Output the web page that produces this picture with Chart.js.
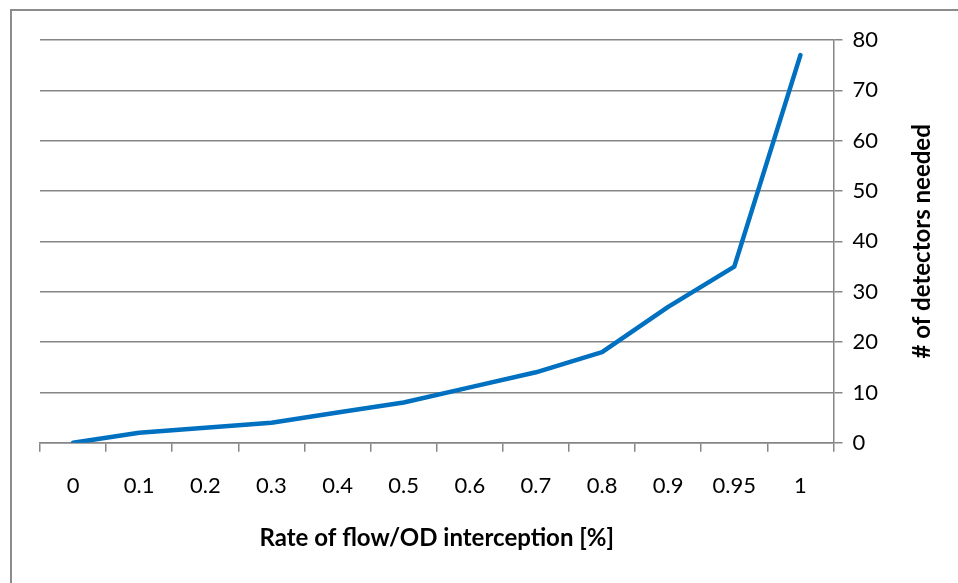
<!DOCTYPE html>
<html>
<head>
<meta charset="utf-8">
<script src="https://cdn.jsdelivr.net/npm/chart.js@4"></script>
<style>
  html, body { margin: 0; padding: 0; background: #fff; overflow: hidden; }
  #wrap { position: relative; width: 958px; height: 583px; }
  #frame { position: absolute; left: 10px; top: 9px; width: 1000px; height: 700px;
           border-left: 2px solid #8c8c8c; border-top: 2px solid #8c8c8c; }
  canvas { position: absolute; left: 0; top: 0; }
</style>
</head>
<body>
<div id="wrap">
  <div id="frame"></div>
  <canvas id="chart" width="958" height="583"></canvas>
</div>
<script>
// categorias do eixo x
const rates = ['0', '0.1', '0.2', '0.3', '0.4', '0.5', '0.6', '0.7', '0.8', '0.9', '0.95', '1'];
// detectores necessários
const detectors = [0, 2, 3, 4, 6, 8, 11, 14, 18, 27, 35, 77];

const xTitle = 'Rate of flow/OD interception [%]';
const yTitle = '# of detectors needed';
const fontFamily = 'Lato, "Open Sans", sans-serif';

// título do eixo y lido de baixo para cima, à direita
const rightTitle = {
    id: 'rightTitle',
    afterDraw(chart) {
        const c = chart.ctx;
        const area = chart.chartArea;
        c.save();
        c.translate(922, (area.top + area.bottom) / 2);
        c.rotate(-Math.PI / 2);
        c.font = 'bold 24px ' + fontFamily;
        c.fillStyle = '#000';
        c.textAlign = 'center';
        c.textBaseline = 'middle';
        c.fillText(yTitle, 0, 0);
        c.restore();
    }
};

const ctx = document.getElementById('chart').getContext('2d');
new Chart(ctx, {
    type: 'line',
    data: {
        labels: rates,
        datasets: [{
            data: detectors,
            borderColor: '#0070c0',
            borderWidth: 4.5,
            pointRadius: 0,
            tension: 0,
            borderCapStyle: 'round',
            borderJoinStyle: 'round'
        }]
    },
    options: {
        responsive: false,
        animation: false,
        layout: { padding: { left: 40, top: 40, right: 70, bottom: 30 } },
        plugins: {
            legend: { display: false },
            tooltip: { enabled: false }
        },
        scales: {
            x: {
                offset: true,
                grid: {
                    offset: true,
                    drawOnChartArea: false,
                    color: '#868686',
                    lineWidth: 1.5,
                    tickLength: 9
                },
                border: { color: '#868686', width: 1.5 },
                ticks: {
                    color: '#000',
                    padding: 21,
                    font: { family: fontFamily, size: 22 },
                    maxRotation: 0,
                    autoSkip: false
                },
                title: {
                    display: true,
                    text: xTitle,
                    color: '#000',
                    font: { family: fontFamily, size: 24, weight: 'bold' },
                    padding: { top: 4, bottom: 0 }
                }
            },
            y: {
                position: 'right',
                min: 0,
                max: 80,
                ticks: {
                    stepSize: 10,
                    color: '#000',
                    padding: 10,
                    font: { family: fontFamily, size: 22 }
                },
                grid: {
                    color: '#868686',
                    lineWidth: 1.5,
                    tickLength: 9
                },
                border: { color: '#868686', width: 1.5 }
            }
        }
    },
    plugins: [rightTitle]
});
</script>
</body>
</html>
